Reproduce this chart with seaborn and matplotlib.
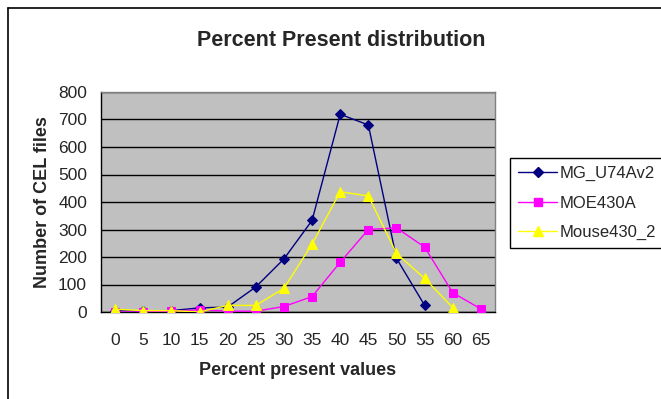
import pandas as pd
import matplotlib
matplotlib.use("Agg")
import matplotlib.pyplot as plt
from matplotlib.lines import Line2D
import seaborn as sns

# values
pct_mg = [0, 5, 10, 15, 20, 25, 30, 35, 40, 45, 50, 55]
mg_u74av2 = [5, 3, 5, 15, 18, 91, 193, 333, 719, 680, 195, 24]

pct_moe = [0, 5, 10, 15, 20, 25, 30, 35, 40, 45, 50, 55, 60, 65]
moe430a = [0, 0, 3, 8, 3, 3, 20, 56, 181, 300, 306, 236, 70, 11]

pct_mouse = [0, 5, 10, 15, 20, 25, 30, 35, 40, 45, 50, 55, 60]
mouse430_2 = [10, 5, 5, 0, 24, 24, 86, 247, 437, 422, 213, 122, 16]

x_ticks = list(range(0, 70, 5))
series_names = ["MG_U74Av2", "MOE430A", "Mouse430_2"]

df = pd.concat([
    pd.DataFrame({"pct": pct_mg, "n": mg_u74av2, "series": "MG_U74Av2"}),
    pd.DataFrame({"pct": pct_moe, "n": moe430a, "series": "MOE430A"}),
    pd.DataFrame({"pct": pct_mouse, "n": mouse430_2, "series": "Mouse430_2"}),
], ignore_index=True)

sns.set_style("white")
plt.rcParams["font.family"] = ["Liberation Sans", "DejaVu Sans"]

colors = {"MG_U74Av2": "#000080", "MOE430A": "#FF00FF", "Mouse430_2": "#FFFF00"}
markers = {"MG_U74Av2": "D", "MOE430A": "s", "Mouse430_2": "^"}
msizes = {"MG_U74Av2": 5.5, "MOE430A": 6, "Mouse430_2": 7.5}

fig = plt.figure(figsize=(6.61, 3.99), dpi=100)
ax = fig.add_axes([101 / 661, 1 - 312 / 399, 394 / 661, 220 / 399])
ax.set_facecolor("#C0C0C0")

for name in series_names:
    sub = df[df["series"] == name]
    sns.lineplot(data=sub, x="pct", y="n", ax=ax, color=colors[name],
                 marker=markers[name], markersize=msizes[name],
                 markeredgecolor=colors[name], linewidth=1.0, label=name,
                 legend=False, zorder=3)

ax.set_xlim(-2.5, 67.5)
ax.set_ylim(0, 800)
ax.set_yticks(range(0, 900, 100))
ax.set_xticks(x_ticks)
ax.set_xticks([t + 2.5 for t in [-5] + x_ticks], minor=True)
ax.tick_params(axis="x", which="major", length=0, pad=15, labelsize=12.5)
ax.tick_params(axis="x", which="minor", length=5, width=1, color="black", direction="out")
ax.tick_params(axis="y", length=5, width=1, color="black", direction="out", pad=5, labelsize=12.5)
ax.grid(axis="y", color="black", linewidth=1)
ax.set_axisbelow(True)

for s in ["left", "bottom"]:
    ax.spines[s].set_color("black")
    ax.spines[s].set_linewidth(1)
for s in ["top", "right"]:
    ax.spines[s].set_color("#808080")
    ax.spines[s].set_linewidth(1)

ax.set_xlabel("Percent present values", fontsize=13, fontweight="bold", labelpad=10)
ax.set_ylabel("Number of CEL files", fontsize=13, fontweight="bold", labelpad=5)
fig.suptitle("Percent Present distribution", x=341 / 661, y=1 - 30 / 399,
             fontsize=15.5, fontweight="bold")

handles = [Line2D([], [], color=colors[n], marker=markers[n], markersize=msizes[n],
                  markeredgecolor=colors[n], linewidth=1.0) for n in series_names]
leg = fig.legend(handles, series_names, loc="upper left",
                 bbox_to_anchor=(510 / 661, 1 - 158 / 399), fontsize=12,
                 frameon=True, fancybox=False, edgecolor="black", framealpha=1,
                 handlelength=2.3, labelspacing=0.85, borderpad=0.5, handletextpad=0.15,
                 borderaxespad=0)
leg.get_frame().set_linewidth(1)

# outer chart frame
fig.add_artist(Line2D([8 / 661, 8 / 661], [0, 1 - 8 / 399], color="black", linewidth=1.2))
fig.add_artist(Line2D([8 / 661, 1], [1 - 8 / 399, 1 - 8 / 399], color="black", linewidth=1.2))

fig.savefig("out.png", dpi=100)
